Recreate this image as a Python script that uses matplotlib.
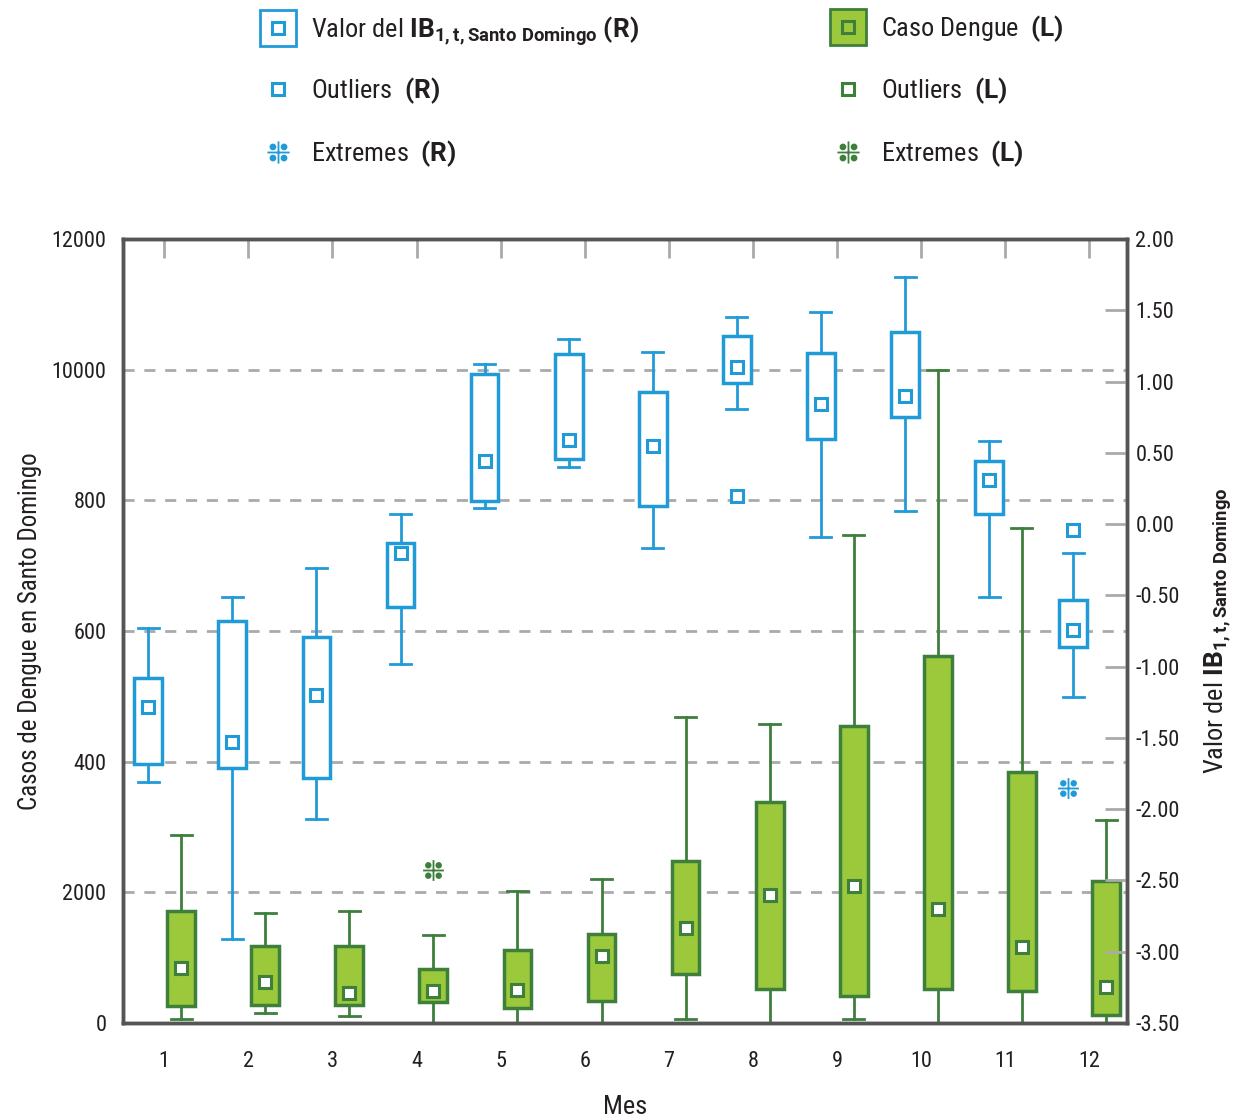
import numpy as np
import matplotlib
matplotlib.use("Agg")
import matplotlib.pyplot as plt
from matplotlib.lines import Line2D
from matplotlib.path import Path
from matplotlib.legend_handler import HandlerTuple

plt.rcParams["font.family"] = ["Roboto Condensed", "Roboto", "DejaVu Sans"]
plt.rcParams["mathtext.fontset"] = "custom"
plt.rcParams["mathtext.rm"] = "Roboto"
plt.rcParams["mathtext.bf"] = "Roboto:bold"

# datos
meses = [1, 2, 3, 4, 5, 6, 7, 8, 9, 10, 11, 12]

# IB (eje derecho)
ib_max = [-0.73, -0.51, -0.31, 0.07, 1.12, 1.30, 1.21, 1.45, 1.49, 1.73, 0.58, -0.20]
ib_q3 = [-1.08, -0.68, -0.79, -0.13, 1.05, 1.19, 0.93, 1.32, 1.20, 1.35, 0.44, -0.53]
ib_med = [-1.28, -1.53, -1.20, -0.20, 0.44, 0.59, 0.55, 1.10, 0.84, 0.90, 0.31, -0.74]
ib_q1 = [-1.68, -1.71, -1.78, -0.58, 0.16, 0.46, 0.13, 0.99, 0.60, 0.75, 0.07, -0.86]
ib_min = [-1.81, -2.91, -2.07, -0.98, 0.11, 0.40, -0.17, 0.81, -0.09, 0.09, -0.51, -1.21]
ib_outliers = {8: [0.20], 12: [-0.04]}
ib_extremes = {12: [-1.85]}

# Casos dengue (eje izquierdo)
dg_max = [2880, 1685, 1715, 1345, 2020, 2205, 4685, 4575, 7470, 9995, 7575, 3105]
dg_q3 = [1715, 1180, 1180, 825, 1115, 1360, 2480, 3385, 4545, 5615, 3840, 2175]
dg_med = [840, 630, 460, 490, 505, 1025, 1455, 1960, 2095, 1745, 1165, 550]
dg_q1 = [260, 275, 275, 320, 230, 335, 750, 520, 415, 520, 490, 120]
dg_min = [60, 155, 105, 0, 0, 0, 60, 0, 60, 0, 0, 0]
dg_outliers = {}
dg_extremes = {4: [2340]}

left_ticks = [0, 2000, 4000, 6000, 8000, 10000, 12000]
left_labels = ["0", "2000", "400", "600", "800", "10000", "12000"]
right_ticks = [2.0, 1.5, 1.0, 0.5, 0.0, -0.5, -1.0, -1.5, -2.0, -2.5, -3.0, -3.5]

azul = "#219bd8"
verde_borde = "#3f7f3c"
verde = "#9bc93b"
gris = "#aaaaaa"
texto = "#231f20"

# marcador de extremos (cruz con cuatro puntos)
circ = [Path.circle((dx, dy), 0.22) for dx in (-0.5, 0.5) for dy in (-0.5, 0.5)]
cruz = Path([(0, -1), (0, 1), (-1, 0), (1, 0)],
            [Path.MOVETO, Path.LINETO, Path.MOVETO, Path.LINETO])
extreme_marker = Path.make_compound_path(cruz, *circ)


def stats(mx, q3, med, q1, mn, outl):
    out = []
    for i, m in enumerate(meses):
        out.append(dict(med=med[i], q1=q1[i], q3=q3[i], whislo=mn[i], whishi=mx[i],
                        mean=med[i], fliers=outl.get(m, [])))
    return out


fig = plt.figure(figsize=(12.44, 11.20), dpi=100)
ax = fig.add_axes([0.0989, 0.0866, 0.8071, 0.700])
ax2 = ax.twinx()

ax.set_xlim(0.51, 12.45)
ax.set_ylim(0, 12000)
ax2.set_ylim(-3.5, 2.0)

for y in left_ticks[1:-1]:
    ax.axhline(y, color=gris, ls=(0, (4, 3.5)), lw=2, zorder=0)

pos_dg = np.array(meses) + 0.2
pos_ib = np.array(meses) - 0.19

ax.bxp(stats(dg_max, dg_q3, dg_med, dg_q1, dg_min, dg_outliers), positions=pos_dg,
       widths=0.33, capwidths=0.25, patch_artist=True, showmeans=True, manage_ticks=False,
       boxprops=dict(facecolor=verde, edgecolor=verde_borde, linewidth=2.5),
       whiskerprops=dict(color=verde_borde, linewidth=2),
       capprops=dict(color=verde_borde, linewidth=2),
       medianprops=dict(linewidth=0),
       meanprops=dict(marker="s", markersize=9, markerfacecolor="white",
                      markeredgecolor=verde_borde, markeredgewidth=2.2),
       flierprops=dict(marker="s", markersize=9, markerfacecolor="white",
                       markeredgecolor=verde_borde, markeredgewidth=2.2))

ax2.bxp(stats(ib_max, ib_q3, ib_med, ib_q1, ib_min, ib_outliers), positions=pos_ib,
        widths=0.33, capwidths=0.25, patch_artist=True, showmeans=True, manage_ticks=False,
        boxprops=dict(facecolor="white", edgecolor=azul, linewidth=2.5),
        whiskerprops=dict(color=azul, linewidth=2),
        capprops=dict(color=azul, linewidth=2),
        medianprops=dict(linewidth=0),
        meanprops=dict(marker="s", markersize=9, markerfacecolor="white",
                       markeredgecolor=azul, markeredgewidth=2.2),
        flierprops=dict(marker="s", markersize=9, markerfacecolor="white",
                        markeredgecolor=azul, markeredgewidth=2.2))

for m, vals in dg_extremes.items():
    ax.plot([m + 0.2] * len(vals), vals, ls="", marker=extreme_marker, markersize=15,
            color=verde_borde, markeredgewidth=1.3)
for m, vals in ib_extremes.items():
    ax2.plot([m - 0.25] * len(vals), vals, ls="", marker=extreme_marker, markersize=15,
             color=azul, markeredgewidth=1.3)

# ejes
ax.set_xticks(meses)
ax.set_xticklabels([str(m) for m in meses])
ax.set_yticks(left_ticks)
ax.set_yticklabels(left_labels)
ax.tick_params(axis="x", top=True, bottom=False, direction="in", length=14, width=2,
               color=gris, labelsize=16, pad=20, labelcolor=texto)
ax.tick_params(axis="y", length=0, labelsize=16, pad=12, labelcolor=texto)
ax2.set_yticks(right_ticks)
ax2.set_yticklabels(["%.2f" % t for t in right_ticks])
ax2.tick_params(axis="y", direction="in", length=16, width=2, color=gris,
                labelsize=16, pad=6, labelcolor=texto)
for a in (ax, ax2):
    for s in a.spines.values():
        s.set_color("#555555")
        s.set_linewidth(2.5)

ax.set_xlabel("Mes", fontsize=19, labelpad=17, color=texto)
ax.set_ylabel("Casos de Dengue en Santo Domingo", fontsize=18, labelpad=7, color=texto)
ax2.set_ylabel(r"Valor del $\mathbf{IB}_{\mathbf{1,t,Santo\ Domingo}}$", fontsize=19,
               rotation=90, labelpad=16, color=texto)

# leyendas (una por fila)
ib_h = [
    (Line2D([], [], ls="", marker="s", markersize=26, markerfacecolor="white",
            markeredgecolor=azul, markeredgewidth=2),
     Line2D([], [], ls="", marker="s", markersize=9, markerfacecolor="white",
            markeredgecolor=azul, markeredgewidth=2.2)),
    Line2D([], [], ls="", marker="s", markersize=9, markerfacecolor="white",
           markeredgecolor=azul, markeredgewidth=2.2),
    Line2D([], [], ls="", marker=extreme_marker, markersize=16, color=azul,
           markeredgewidth=1.3),
]
dg_h = [
    (Line2D([], [], ls="", marker="s", markersize=26, markerfacecolor=verde,
            markeredgecolor=verde_borde, markeredgewidth=2),
     Line2D([], [], ls="", marker="s", markersize=9, markerfacecolor=verde,
            markeredgecolor=verde_borde, markeredgewidth=2.2)),
    Line2D([], [], ls="", marker="s", markersize=9, markerfacecolor="white",
           markeredgecolor=verde_borde, markeredgewidth=2.2),
    Line2D([], [], ls="", marker=extreme_marker, markersize=16, color=verde_borde,
           markeredgewidth=1.3),
]
ib_lab = [r"Valor del $\mathbf{IB}_{\mathbf{1,t,Santo\ Domingo}}$ $\mathbf{(R)}$",
          r"Outliers  $\mathbf{(R)}$", r"Extremes  $\mathbf{(R)}$"]
dg_lab = [r"Caso Dengue  $\mathbf{(L)}$", r"Outliers  $\mathbf{(L)}$",
          r"Extremes  $\mathbf{(L)}$"]
filas_y = [29, 91, 154]

for hs, ls_, x0 in ((ib_h, ib_lab, 260), (dg_h, dg_lab, 830)):
    for h, l, yc in zip(hs, ls_, filas_y):
        if "IB" in l:
            yc += 2
        fig.legend([h], [l], loc="center left", bbox_to_anchor=(x0 / 1244, 1 - yc / 1120),
                   frameon=False, fontsize=19, handlelength=1.35, handletextpad=0.6,
                   borderpad=0, borderaxespad=0, labelcolor=texto,
                   handler_map={tuple: HandlerTuple(ndivide=1)})

fig.savefig("out.png", dpi=100)
